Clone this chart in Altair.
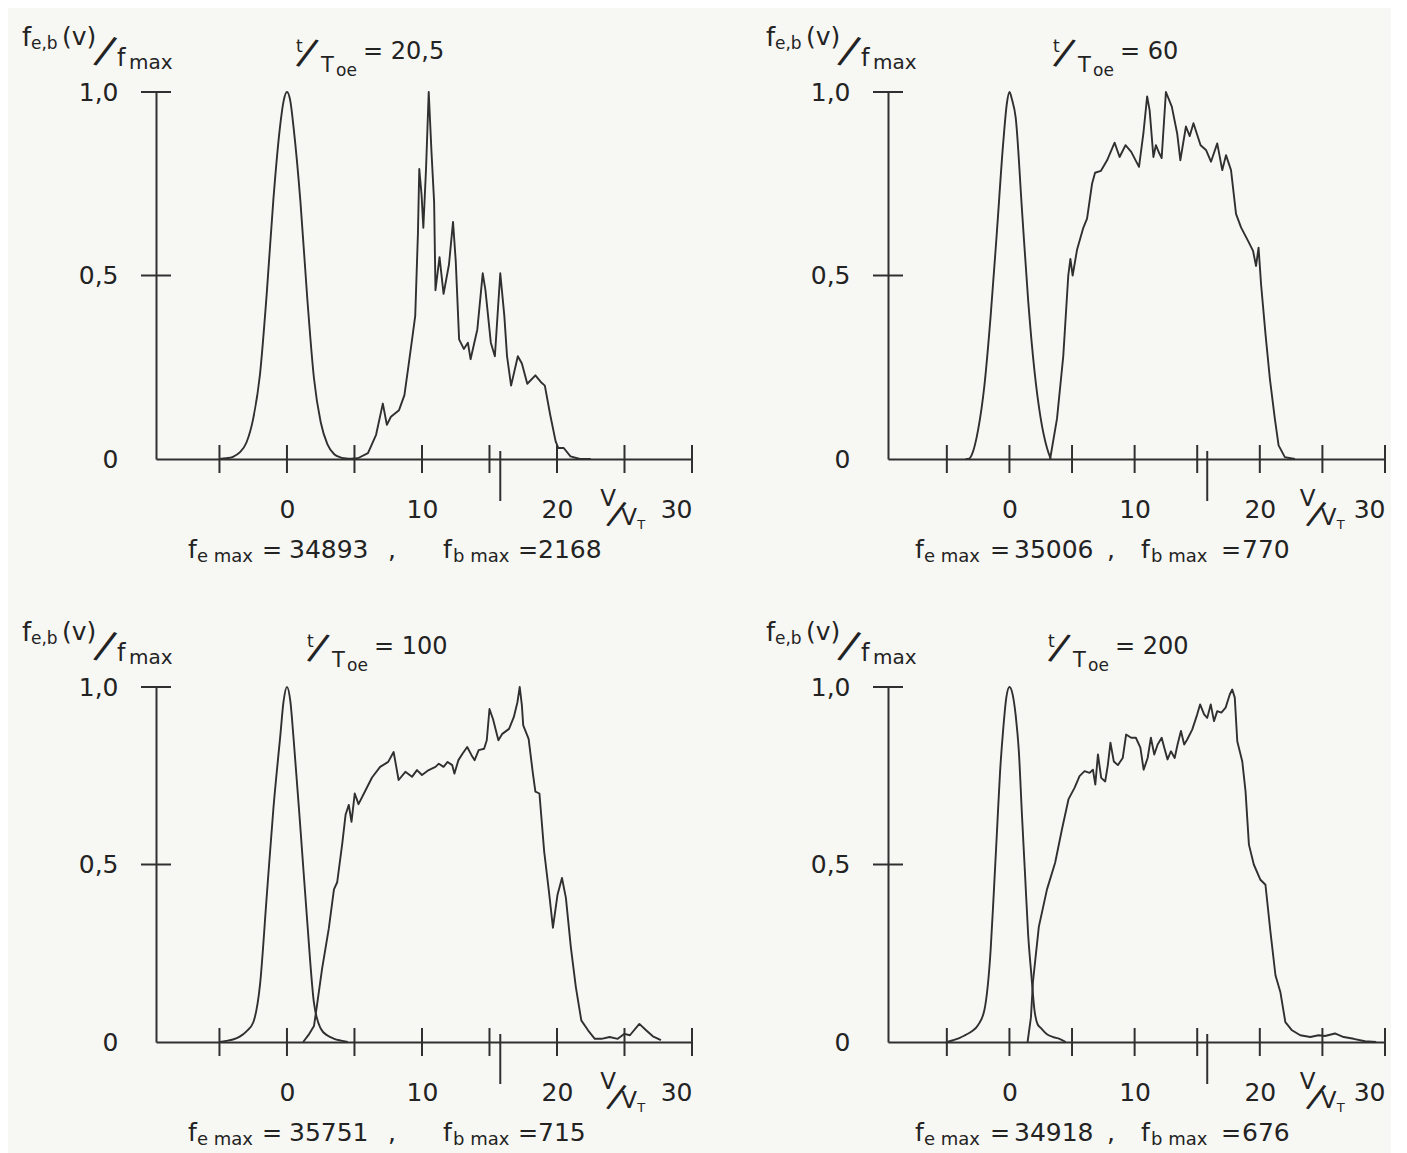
import altair as alt
import pandas as pd

FONT = "DejaVu Sans"
INK = "#232323"
LINE = "#303030"
BG = "#f7f7f4"

# ---------------- axes / labels ----------------
X_DOMAIN = [-9.7, 30]
X_TICKS = [-5, 0, 5, 10, 15, 20, 25, 30]
X_LABELS = [0, 10, 20, 30]
Y_TICKS = [0.5, 1.0]
Y_LABELS = [0, 0.5, 1.0]
V0_MARK = [15.8]

TIMES = ["20,5", "60", "100", "200"]
FE_MAX = ["34893", "35006", "35751", "34918"]
FB_MAX = ["2168", "770", "715", "676"]

# ---------------- panel 1 : t/T = 20,5 ----------------
V_E1 = [-5, -4.5, -4, -3.5, -3, -2.5, -2, -1.5, -1, -0.5, -0.25, 0, 0.25, 0.5, 1, 1.5, 2, 2.5, 3, 3.5, 4, 4.5, 5]
F_E1 = [0, 0.002, 0.006, 0.018, 0.045, 0.11, 0.23, 0.45, 0.71, 0.91, 0.975, 1.0, 0.975, 0.9, 0.7, 0.44, 0.22,
        0.1, 0.04, 0.013, 0.004, 0.001, 0]
V_B1 = [4.5, 5.25, 6.0, 6.6, 7.1, 7.4, 7.7, 8.3, 8.7, 9.0, 9.3, 9.5, 9.7, 9.8, 9.97, 10.1, 10.3, 10.5, 10.7,
        10.9, 11.0, 11.3, 11.6, 12.0, 12.3, 12.5, 12.75, 13.1, 13.4, 13.6, 14.1, 14.5, 14.7, 15.1, 15.4, 15.8,
        16.1, 16.3, 16.6, 17.1, 17.4, 17.8, 18.4, 18.8, 19.1, 19.5, 19.9, 20.1, 20.5, 21.0, 21.7, 22.5]
F_B1 = [0, 0.002, 0.016, 0.066, 0.151, 0.093, 0.115, 0.133, 0.174, 0.254, 0.335, 0.39, 0.614, 0.79, 0.72, 0.63,
        0.79, 1.0, 0.84, 0.70, 0.46, 0.55, 0.45, 0.53, 0.646, 0.54, 0.326, 0.30, 0.317, 0.272, 0.353, 0.506,
        0.46, 0.317, 0.28, 0.506, 0.39, 0.28, 0.20, 0.28, 0.26, 0.205, 0.228, 0.21, 0.20, 0.12, 0.048, 0.03,
        0.03, 0.007, 0, 0]

# ---------------- panel 2 : t/T = 60 ----------------
V_E2 = [-3.5, -3.3, -3, -2.5, -2, -1.5, -1, -0.5, -0.2, 0, 0.2, 0.5, 1, 1.5, 2, 2.5, 3, 3.3]
F_E2 = [0, 0.0, 0.012, 0.08, 0.2, 0.39, 0.62, 0.86, 0.97, 1.0, 0.98, 0.93, 0.68, 0.43, 0.24, 0.11, 0.03, 0.0]
V_B2 = [3.25, 3.8, 4.3, 4.7, 4.87, 5.05, 5.4, 5.9, 6.2, 6.6, 6.84, 7.3, 7.8, 8.4, 8.8, 9.27, 9.73, 10.35,
        10.7, 11.0, 11.2, 11.5, 11.7, 11.97, 12.16, 12.5, 12.97, 13.4, 13.65, 14.1, 14.4, 14.7, 15.27, 15.7,
        16.1, 16.6, 17.0, 17.3, 17.7, 18.1, 18.5, 19.05, 19.46, 19.7, 19.9, 20.1, 20.46, 20.8, 21.2, 21.5,
        22.0, 22.8]
F_B2 = [0, 0.11, 0.28, 0.5, 0.545, 0.5, 0.57, 0.63, 0.655, 0.75, 0.78, 0.785, 0.814, 0.862, 0.823, 0.855,
        0.837, 0.796, 0.887, 0.988, 0.95, 0.823, 0.855, 0.833, 0.82, 1.0, 0.96, 0.887, 0.814, 0.906, 0.88,
        0.915, 0.855, 0.842, 0.81, 0.86, 0.787, 0.828, 0.787, 0.668, 0.631, 0.595, 0.567, 0.526, 0.576,
        0.476, 0.338, 0.22, 0.11, 0.037, 0.005, 0]

# ---------------- panel 3 : t/T = 100 ----------------
V_E3 = [-5, -4.5, -4, -3.5, -3, -2.5, -2, -1.5, -1, -0.5, -0.25, 0, 0.25, 0.5, 1, 1.5, 2, 2.5, 3, 3.5, 4, 4.5]
F_E3 = [0, 0.003, 0.007, 0.015, 0.03, 0.055, 0.16, 0.41, 0.66, 0.86, 0.96, 1.0, 0.96, 0.85, 0.6, 0.34, 0.11,
        0.038, 0.018, 0.009, 0.004, 0]
V_B3 = [1.2, 1.6, 2.0, 2.2, 2.6, 3.1, 3.48, 3.72, 4.1, 4.34, 4.58, 4.78, 5.02, 5.3, 5.7, 6.3, 6.9, 7.5, 7.9,
        8.27, 8.77, 9.26, 9.63, 10.0, 10.5, 11.0, 11.25, 11.6, 11.9, 12.24, 12.4, 12.7, 13.0, 13.35, 13.67,
        13.9, 14.2, 14.6, 14.8, 15.0, 15.26, 15.66, 15.95, 16.45, 16.8, 17.07, 17.24, 17.4, 17.5, 17.9, 18.2,
        18.4, 18.7, 19.05, 19.4, 19.7, 20.04, 20.37, 20.66, 21.03, 21.4, 21.8, 22.3, 22.8, 23.3, 23.9, 24.5,
        25.0, 25.4, 26.1, 26.6, 27.1, 27.7]
F_B3 = [0, 0.02, 0.045, 0.097, 0.206, 0.32, 0.43, 0.45, 0.56, 0.64, 0.668, 0.62, 0.70, 0.67, 0.70, 0.745,
        0.775, 0.789, 0.817, 0.738, 0.761, 0.747, 0.766, 0.752, 0.766, 0.775, 0.784, 0.775, 0.789, 0.78,
        0.756, 0.794, 0.812, 0.831, 0.808, 0.794, 0.822, 0.826, 0.85, 0.938, 0.91, 0.85, 0.868, 0.882,
        0.915, 0.957, 1.0, 0.948, 0.892, 0.854, 0.761, 0.705, 0.70, 0.537, 0.425, 0.322, 0.415, 0.462,
        0.406, 0.266, 0.154, 0.061, 0.033, 0.009, 0.009, 0.014, 0.009, 0.023, 0.019, 0.051, 0.033, 0.016,
        0.005]

# ---------------- panel 4 : t/T = 200 ----------------
V_E4 = [-5, -4.5, -4, -3.5, -3, -2.5, -2, -1.5, -1.25, -1, -0.75, -0.5, -0.25, 0, 0.25, 0.5, 0.75, 1, 1.25,
        1.5, 1.75, 2, 2.25, 2.5, 3, 3.5, 4, 4.5]
F_E4 = [0, 0.005, 0.011, 0.02, 0.03, 0.048, 0.09, 0.26, 0.42, 0.59, 0.76, 0.88, 0.97, 1.0, 0.98, 0.92, 0.82,
        0.64, 0.47, 0.3, 0.19, 0.09, 0.05, 0.04, 0.022, 0.014, 0.009, 0]
V_B4 = [1.45, 1.72, 1.88, 2.35, 3.0, 3.65, 4.2, 4.72, 5.2, 5.6, 6.0, 6.4, 6.67, 6.86, 7.07, 7.33, 7.65, 7.86,
        8.07, 8.34, 8.66, 9.05, 9.32, 9.72, 10.1, 10.46, 10.72, 11.04, 11.3, 11.57, 11.84, 12.16, 12.37,
        12.63, 12.9, 13.2, 13.43, 13.7, 13.96, 14.2, 14.6, 15.0, 15.23, 15.55, 15.8, 16.08, 16.34, 16.6,
        16.93, 17.27, 17.6, 17.8, 18.0, 18.2, 18.6, 18.86, 19.13, 19.52, 20.05, 20.45, 20.85, 21.25, 21.64,
        22.04, 22.57, 23.23, 24.03, 24.7, 25.2, 26.0, 26.7, 27.5, 28.4, 29.3]
F_B4 = [0, 0.07, 0.17, 0.325, 0.43, 0.505, 0.6, 0.684, 0.716, 0.749, 0.763, 0.758, 0.767, 0.725, 0.81, 0.744,
        0.734, 0.78, 0.843, 0.79, 0.78, 0.80, 0.866, 0.857, 0.857, 0.829, 0.767, 0.80, 0.857, 0.81, 0.838,
        0.857, 0.829, 0.796, 0.819, 0.80, 0.838, 0.876, 0.838, 0.852, 0.88, 0.923, 0.951, 0.923, 0.913,
        0.951, 0.904, 0.932, 0.928, 0.942, 0.979, 0.993, 0.97, 0.847, 0.79, 0.706, 0.556, 0.50, 0.457,
        0.443, 0.31, 0.188, 0.141, 0.056, 0.033, 0.019, 0.014, 0.019, 0.017, 0.024, 0.014, 0.009, 0.002, 0]

CURVES = [(V_E1, F_E1, V_B1, F_B1), (V_E2, F_E2, V_B2, F_B2),
          (V_E3, F_E3, V_B3, F_B3), (V_E4, F_E4, V_B4, F_B4)]

ONE = pd.DataFrame({"k": [0]})


def txt(s, x, y, size, angle=0, align="left", baseline="alphabetic"):
    return alt.Chart(ONE).mark_text(
        text=s, align=align, baseline=baseline, fontSize=size, angle=angle,
        font=FONT, color=INK
    ).encode(x=alt.value(x), y=alt.value(y))


def txt_data(s, v, dx, y, size, angle=0, align="left", baseline="alphabetic"):
    return alt.Chart(ONE).mark_text(
        text=s, align=align, baseline=baseline, fontSize=size, angle=angle,
        font=FONT, color=INK, dx=dx
    ).encode(x=alt.datum(v), y=alt.value(y))


def make_axes():
    xaxis = alt.Axis(values=X_LABELS, title=None, grid=False, ticks=False, tickSize=0,
                     labelFont=FONT, labelFontSize=25, labelColor=INK, labelPadding=58,
                     labelBaseline="alphabetic", labelFlush=True, labelOverlap=False,
                     domainColor=LINE, domainWidth=2)
    yaxis = alt.Axis(values=Y_LABELS, title=None, grid=False, ticks=False, tickSize=0,
                     labelFont=FONT, labelFontSize=25, labelColor=INK, labelPadding=38,
                     labelFlush=False, labelOverlap=False, labelBaseline="middle",
                     labelExpr="datum.value == 0 ? '0' : replace(format(datum.value, '.1f'), '.', ',')",
                     domainColor=LINE, domainWidth=2)
    return xaxis, yaxis


def panel(k, W, H, col):
    ve, fe, vb, fb = CURVES[k]
    xsc = alt.Scale(domain=X_DOMAIN, nice=False, zero=False)
    ysc = alt.Scale(domain=[0, 1], nice=False, zero=False)
    xaxis, yaxis = make_axes()

    elec = alt.Chart(pd.DataFrame({"v": ve, "f": fe})).mark_line(
        color=LINE, strokeWidth=1.9, interpolate="monotone").encode(
        x=alt.X("v:Q", scale=xsc, axis=xaxis),
        y=alt.Y("f:Q", scale=ysc, axis=yaxis),
    )
    beam = alt.Chart(pd.DataFrame({"v": vb, "f": fb})).mark_line(
        color=LINE, strokeWidth=1.9, strokeJoin="round").encode(
        x=alt.X("v:Q", scale=xsc, axis=xaxis),
        y=alt.Y("f:Q", scale=ysc, axis=yaxis),
    )
    xt = alt.Chart(pd.DataFrame({"v": X_TICKS})).mark_rule(color=LINE, strokeWidth=2).encode(
        x="v:Q", y=alt.value(H - 14), y2=alt.value(H + 14))
    yt = alt.Chart(pd.DataFrame({"f": Y_TICKS})).mark_rule(color=LINE, strokeWidth=2).encode(
        y="f:Q", x=alt.value(-15), x2=alt.value(15))
    v0 = alt.Chart(pd.DataFrame({"v": V0_MARK})).mark_rule(color=LINE, strokeWidth=2).encode(
        x="v:Q", y=alt.value(H - 8), y2=alt.value(H + 42))

    texts = []
    # ordinate title  f_{e,b}(v) / f_max
    tx = -134 if col == 0 else -122
    texts += [
        txt("f", tx, -46, 26),
        txt("e,b", tx + 9, -43, 17),
        txt("(v)", tx + 40, -47, 25),
        txt("/", tx + 83, -40, 40, angle=20, align="center", baseline="middle"),
        txt("f", tx + 95, -26, 24),
        txt("max", tx + 107, -23, 20),
    ]
    # time label  t / T_oe = ...
    ttx = [138, 163, 149, 158][k]
    texts += [
        txt("t", ttx + 2, -40, 17),
        txt("/", ttx + 13, -38, 38, angle=20, align="center", baseline="middle"),
        txt("T", ttx + 27, -20, 21),
        txt("oe", ttx + 42, -16, 17),
        txt("= " + TIMES[k], ttx + 69, -33, 24),
    ]
    # abscissa title V / V_T
    texts += [
        txt_data("V", 23.2, 0, H + 47, 23),
        txt_data("/", 23.2, 17, H + 50, 34, angle=20, align="center", baseline="middle"),
        txt_data("V", 23.2, 21, H + 66, 23),
        txt_data("T", 23.2, 37, H + 70, 13),
    ]
    # maxima line under the panel
    bx = [32, 41, 106, 133, 232, 287, 297, 362, 382] if col == 0 else [27, 36, 102, 126, 219, 253, 263, 333, 354]
    by = H + 99
    texts += [
        txt("f", bx[0], by, 25),
        txt("e max", bx[1], by + 4, 18),
        txt("=", bx[2], by, 24),
        txt(FE_MAX[k], bx[3], by, 25),
        txt(",", bx[4], by, 25),
        txt("f", bx[5], by, 25),
        txt("b max", bx[6], by + 4, 18),
        txt("=", bx[7], by, 24),
        txt(FB_MAX[k], bx[8], by, 25),
    ]
    return alt.layer(elec, beam, xt, yt, v0, *texts).properties(width=W, height=H)


p1 = panel(0, 536, 367, 0)
p2 = panel(1, 497, 367, 1)
p3 = panel(2, 536, 355, 0)
p4 = panel(3, 497, 355, 1)

chart = alt.ConcatChart(
    concat=[p1, p2, p3, p4],
    columns=2,
    spacing={"row": 228, "column": 196},
    bounds="flush",
    padding={"left": 14, "top": 17, "right": 5, "bottom": 5},
    background=BG,
).configure_view(stroke=None)

chart.save("out.html", embed_options={"renderer": "svg", "actions": False})
